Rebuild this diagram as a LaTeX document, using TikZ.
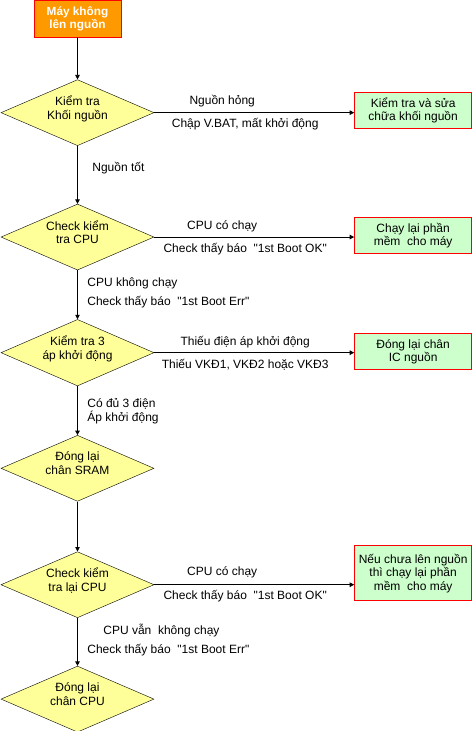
\documentclass[tikz,border=0pt]{standalone}
\usepackage{fontspec}
\setmainfont{Liberation Sans}[Ligatures=TeXOff]
\usetikzlibrary{arrows.meta,positioning,shapes.geometric}
\definecolor{flowOrange}{RGB}{255,153,0}
\definecolor{flowYellow}{RGB}{255,255,153}
\definecolor{flowGreen}{RGB}{204,255,204}
\definecolor{flowRed}{RGB}{255,0,0}

\begin{document}
\begin{tikzpicture}[
  startbox/.style={
    draw=flowRed,
    fill=flowOrange,
    line width=0.9pt,
    minimum width=87pt,
    minimum height=37pt,
    inner sep=1pt,
    align=center,
    text=white,
    font=\bfseries\fontsize{11.8}{13}\selectfont
  },
  decision/.style={
    diamond,
    draw,
    fill=flowYellow,
    aspect=2.3,
    minimum width=153pt,
    minimum height=66pt,
    inner sep=1pt,
    text depth=10pt,
    align=center,
    font=\fontsize{12}{13.5}\selectfont
  },
  action/.style={
    draw=flowRed,
    fill=flowGreen,
    line width=0.9pt,
    minimum width=117pt,
    minimum height=36pt,
    inner sep=1pt,
    align=center,
    font=\fontsize{12}{13.5}\selectfont
  },
  lbl/.style={inner sep=0pt,font=\fontsize{12}{14}\selectfont},
  arrow/.style={-{Triangle[length=4.5pt,width=4.5pt]},line width=0.8pt}
]
  \useasboundingbox[fill=white] (0,0) rectangle (472pt,-731pt);

  % main column
  \node[startbox] (start) at (77.5pt,-18.5pt) {Máy không\\lên nguồn};
  \node[decision,below=42pt of start] (power) {Kiểm tra\\Khối nguồn};
  \node[decision,below=58pt of power] (cpu) {Check kiểm\\tra CPU};
  \node[decision,below=49pt of cpu] (volt) {Kiểm tra 3\\áp khởi động};
  \node[decision,below=49pt of volt] (sram) {Đóng lại\\chân SRAM};
  \node[decision,below=50pt of sram] (recheck) {Check kiểm\\tra lại CPU};
  \node[decision,below=48pt of recheck] (cpufix) {Đóng lại\\chân CPU};

  % right column
  \node[action,right=200pt of power,yshift=2pt] (fixpower) {Kiểm tra và sửa\\chữa khối nguồn};
  \node[action,right=200pt of cpu,yshift=1.5pt] (reflash) {Chạy lại phần\\mềm\ \ cho máy};
  \node[action,right=200pt of volt,yshift=1pt] (icpower) {Đóng lại chân\\IC nguồn};
  \node[action,right=200pt of recheck,yshift=11.5pt,minimum height=55pt] (reflash2) {Nếu chưa lên nguồn\\thì chạy lại phần\\mềm\ \ cho máy};

  % down the column
  \draw[arrow] (start) -- (power);
  \draw[arrow] (power) -- node[lbl,anchor=west,pos=0.38,xshift=14.5pt] {Nguồn tốt} (cpu);
  \draw[arrow] (cpu) -- node[lbl,anchor=west,pos=0.265,xshift=9.5pt] {CPU không chạy}
    node[lbl,anchor=west,pos=0.65,xshift=9.5pt] {Check thấy báo\ \ "1st Boot Err"} (volt);
  \draw[arrow] (volt) -- node[lbl,anchor=west,pos=0.51,xshift=9.5pt,align=left] {Có đủ 3 điện\\Áp khởi động} (sram);
  \draw[arrow] (sram) -- (recheck);
  \draw[arrow] (recheck) -- node[lbl,anchor=west,pos=0.27,xshift=25.5pt] {CPU vẫn\ \ không chạy}
    node[lbl,anchor=west,pos=0.67,xshift=9.5pt] {Check thấy báo\ \ "1st Boot Err"} (cpufix);

  % out to the right
  \draw[arrow] (power) -- node[lbl,pos=0.34,yshift=12pt] {Nguồn hỏng}
    node[lbl,pos=0.455,yshift=-11pt] {Chập V.BAT, mất khởi động} (power -| fixpower.west);
  \draw[arrow] (cpu) -- node[lbl,pos=0.34,yshift=11pt] {CPU có chạy}
    node[lbl,pos=0.455,yshift=-12pt] {Check thấy báo\ \ "1st Boot OK"} (cpu -| reflash.west);
  \draw[arrow] (volt) -- node[lbl,pos=0.455,yshift=11pt] {Thiếu điện áp khởi động}
    node[lbl,pos=0.455,yshift=-12pt] {Thiếu VKĐ1, VKĐ2 hoặc VKĐ3} (volt -| icpower.west);
  \draw[arrow] (recheck) -- node[lbl,pos=0.34,yshift=12pt] {CPU có chạy}
    node[lbl,pos=0.455,yshift=-11pt] {Check thấy báo\ \ "1st Boot OK"} (recheck -| reflash2.west);
\end{tikzpicture}
\end{document}
